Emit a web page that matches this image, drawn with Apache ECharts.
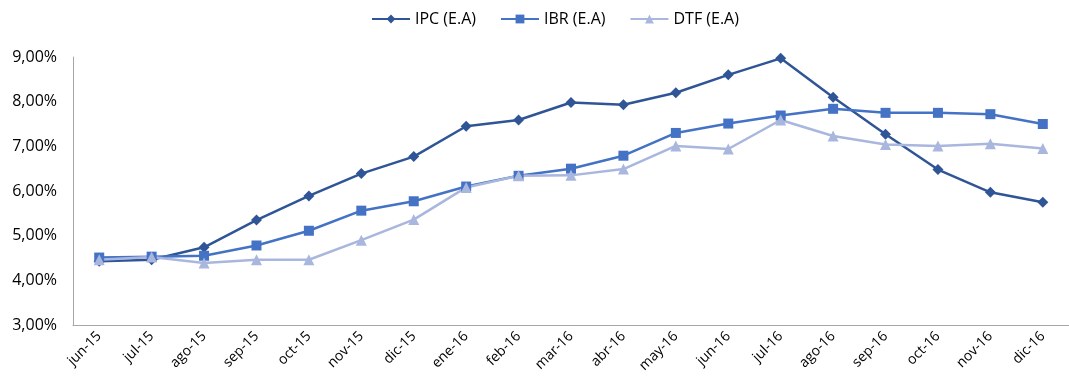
<!DOCTYPE html>
<html><head><meta charset="utf-8">
<script src="https://cdn.jsdelivr.net/npm/echarts@6/dist/echarts.min.js"></script>
<style>html,body{margin:0;padding:0;background:#fff}#c{width:1069px;height:386px}</style>
</head><body><div id="c"></div>
<script>
const categories = ["jun-15","jul-15","ago-15","sep-15","oct-15","nov-15","dic-15","ene-16","feb-16","mar-16","abr-16","may-16","jun-16","jul-16","ago-16","sep-16","oct-16","nov-16","dic-16"];
const ipc = [4.43,4.46,4.74,5.35,5.89,6.39,6.77,7.45,7.59,7.98,7.93,8.20,8.60,8.97,8.10,7.27,6.48,5.97,5.75];
const ibr = [4.51,4.53,4.55,4.78,5.11,5.56,5.77,6.10,6.34,6.50,6.79,7.30,7.51,7.69,7.84,7.75,7.75,7.72,7.50];
const dtf = [4.46,4.52,4.39,4.46,4.46,4.90,5.36,6.08,6.34,6.35,6.49,7.01,6.94,7.59,7.23,7.04,7.01,7.06,6.95];
const yTicks = [3,4,5,6,7,8,9];
const font = "'Open Sans', 'Liberation Sans', sans-serif";
const chart = echarts.init(document.getElementById('c'), null, {renderer:'canvas'});
function mk(name, data, color, symbol, size){
  return {name, type:'line', data, symbol, symbolSize:size, showSymbol:true,
    lineStyle:{color, width:2.5}, itemStyle:{color}, animation:false};
}
chart.setOption({
  animation:false,
  legend:{top:6, left:366, itemGap:24, itemWidth:38, itemHeight:11,
    textStyle:{fontFamily:font, fontSize:16, color:'#000'},
    data:['IPC (E.A)','IBR (E.A)','DTF (E.A)']},
  grid:{left:73, top:57, width:1002, bottom:61},
  xAxis:{type:'category', data:categories, boundaryGap:true,
    axisLine:{lineStyle:{color:'#A6A6A6', width:1}}, axisTick:{show:false},
    axisLabel:{rotate:45, fontFamily:font, fontSize:14, color:'#000', margin:9, interval:0}},
  yAxis:{type:'value', min:3, max:9, interval:1,
    axisLine:{show:true, lineStyle:{color:'#A6A6A6', width:1}}, axisTick:{show:false},
    splitLine:{show:false},
    axisLabel:{fontFamily:font, fontSize:16, color:'#000', margin:16,
      formatter:v=>v.toFixed(2).replace('.',',')+'%'}},
  series:[
    mk('IPC (E.A)', ipc, '#2F5597', 'diamond', 11),
    mk('IBR (E.A)', ibr, '#4472C4', 'rect', 10),
    mk('DTF (E.A)', dtf, '#A9B7DE', 'triangle', 11)
  ]
});
</script></body></html>
